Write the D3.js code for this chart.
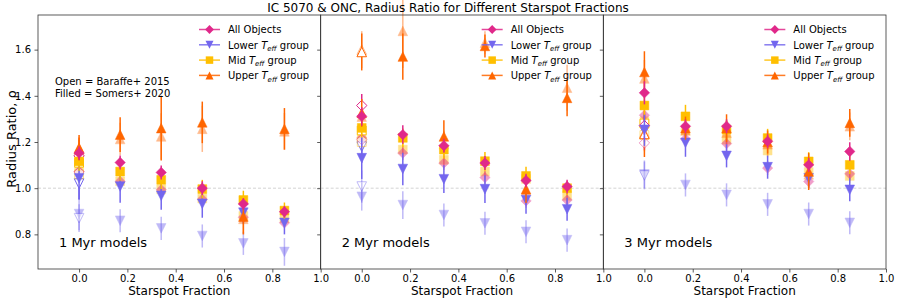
<!DOCTYPE html>
<html>
<head>
<meta charset="utf-8">
<script src="https://cdn.jsdelivr.net/npm/d3@7.9.0/dist/d3.min.js"></script>
<style>
  body { margin: 0; background: #fff; }
  svg { display: block; font-family: "DejaVu Sans", sans-serif; }
</style>
</head>
<body>
<svg id="chart" width="897" height="300"></svg>
<script>
const fractions = [0, 0.17, 0.34, 0.51, 0.68, 0.85];
const panelLabels = ['1 Myr models', '2 Myr models', '3 Myr models'];
const xTicks = [0, 0.2, 0.4, 0.6, 0.8, 1.0];
const yTicks = [0.8, 1.0, 1.2, 1.4, 1.6];

// Somers+ 2020 (filled), one row per model age. IC = solid, ONC = faded
const allIC = [
  [1.152, 1.111, 1.068, 1.0, 0.932, 0.898],
  [1.311, 1.232, 1.184, 1.109, 1.033, 1.007],
  [1.413, 1.268, 1.268, 1.203, 1.101, 1.159]
];
const allICErr = [
  [0.03, 0.03, 0.03, 0.03, 0.025, 0.025],
  [0.04, 0.04, 0.03, 0.03, 0.03, 0.03],
  [0.05, 0.03, 0.03, 0.03, 0.03, 0.04]
];
const allONC = [
  [1.072, 1.029, 0.993, 0.952, 0.874, 0.85],
  [1.217, 1.152, 1.109, 1.046, 0.945, 0.949],
  [1.316, 1.213, 1.193, 1.087, 1.029, 1.062]
];
const allONCErr = [
  [0.02, 0.02, 0.02, 0.02, 0.02, 0.02],
  [0.03, 0.03, 0.03, 0.03, 0.03, 0.03],
  [0.03, 0.03, 0.03, 0.03, 0.03, 0.03]
];

const lowerIC = [
  [1.043, 1.007, 0.967, 0.932, 0.894, 0.85],
  [1.13, 1.083, 1.039, 0.996, 0.949, 0.909],
  [1.253, 1.196, 1.14, 1.091, 1.043, 0.993]
];
const lowerICErr = [
  [0.09, 0.07, 0.06, 0.06, 0.05, 0.05],
  [0.09, 0.07, 0.06, 0.06, 0.06, 0.05],
  [0.07, 0.06, 0.05, 0.05, 0.04, 0.05]
];
const lowerONC = [
  [0.888, 0.859, 0.826, 0.793, 0.761, 0.724],
  [0.963, 0.927, 0.884, 0.848, 0.811, 0.775],
  [1.06, 1.014, 0.971, 0.93, 0.888, 0.85]
];
const lowerONCErr = [
  [0.07, 0.05, 0.05, 0.05, 0.05, 0.06],
  [0.06, 0.06, 0.05, 0.05, 0.05, 0.05],
  [0.06, 0.05, 0.05, 0.05, 0.05, 0.05]
];

const midIC = [
  [1.116, 1.072, 1.036, 0.996, 0.949, 0.903],
  [1.261, 1.218, 1.167, 1.117, 1.053, 1.0],
  [1.358, 1.311, 1.253, 1.217, 1.116, 1.101]
];
const midICErr = [
  [0.04, 0.04, 0.04, 0.04, 0.04, 0.035],
  [0.04, 0.04, 0.04, 0.04, 0.04, 0.03],
  [0.04, 0.05, 0.04, 0.04, 0.04, 0.04]
];
const midONC = [
  [1.09, 1.03, 0.995, 0.955, 0.88, 0.87],
  [1.22, 1.167, 1.123, 1.072, 1.04, 0.967],
  [1.29, 1.25, 1.21, 1.163, 1.07, 1.053]
];
const midONCErr = [
  [0.03, 0.03, 0.03, 0.03, 0.03, 0.03],
  [0.03, 0.03, 0.03, 0.03, 0.03, 0.03],
  [0.03, 0.03, 0.03, 0.03, 0.03, 0.03]
];

const upperIC = [
  [1.175, 1.232, 1.26, 1.285, 0.877, 1.257],
  [1.326, 1.57, 1.224, 1.616, 0.996, 1.391],
  [1.503, 1.26, 1.26, 1.2, 1.072, 1.283]
];
const upperICErr = [
  [0.055, 0.075, 0.14, 0.09, 0.075, 0.09],
  [0.06, 0.1, 0.07, 0.05, 0.06, 0.08],
  [0.09, 0.05, 0.06, 0.05, 0.08, 0.06]
];
const upperONC = [
  [1.16, 1.213, 1.224, 1.257, 0.867, 1.246],
  [1.31, 1.681, 1.19, 1.63, 0.99, 1.435],
  [1.475, 1.25, 1.24, 1.19, 1.06, 1.268]
];
const upperONCErr = [
  [0.05, 0.07, 0.1, 0.1, 0.07, 0.08],
  [0.05, 0.16, 0.06, 0.05, 0.05, 0.1],
  [0.08, 0.05, 0.05, 0.05, 0.06, 0.06]
];

// Baraffe+ 2015 (open), only at zero spot fraction, one value per age
const allOpenIC = [1.14, 1.358, 1.271];
const allOpenICErr = [0.03, 0.05, 0.04];
const allOpenONC = [1.07, 1.21, 1.196];
const allOpenONCErr = [0.02, 0.03, 0.03];
const lowerOpenIC = [1.02, 1.18, 1.25];
const lowerOpenICErr = [0.07, 0.07, 0.05];
const lowerOpenONC = [0.87, 1.007, 1.055];
const lowerOpenONCErr = [0.06, 0.07, 0.06];
const midOpenIC = [1.11, 1.25, 1.28];
const midOpenICErr = [0.04, 0.04, 0.04];
const midOpenONC = [1.06, 1.2, 1.23];
const midOpenONCErr = [0.03, 0.03, 0.03];
const upperOpenIC = [1.17, 1.59, 1.235];
const upperOpenICErr = [0.05, 0.08, 0.1];
const upperOpenONC = [1.16, 1.6, 1.24];
const upperOpenONCErr = [0.05, 0.08, 0.08];

const groups = [
  { name: 'Lower', color: '#7366ee', shape: 'down',
    ic: lowerIC, icErr: lowerICErr, onc: lowerONC, oncErr: lowerONCErr,
    openIC: lowerOpenIC, openICErr: lowerOpenICErr, openONC: lowerOpenONC, openONCErr: lowerOpenONCErr },
  { name: 'Mid', color: '#ffbf00', shape: 'square',
    ic: midIC, icErr: midICErr, onc: midONC, oncErr: midONCErr,
    openIC: midOpenIC, openICErr: midOpenICErr, openONC: midOpenONC, openONCErr: midOpenONCErr },
  { name: 'Upper', color: '#ff6600', shape: 'up',
    ic: upperIC, icErr: upperICErr, onc: upperONC, oncErr: upperONCErr,
    openIC: upperOpenIC, openICErr: upperOpenICErr, openONC: upperOpenONC, openONCErr: upperOpenONCErr },
  { name: 'All Objects', color: '#e0288a', shape: 'diamond',
    ic: allIC, icErr: allICErr, onc: allONC, oncErr: allONCErr,
    openIC: allOpenIC, openICErr: allOpenICErr, openONC: allOpenONC, openONCErr: allOpenONCErr }
];
const legendOrder = ['All Objects', 'Lower', 'Mid', 'Upper'];

const FADE = 0.45;
const shapes = {
  diamond: (r) => `M0,${-r}L${r},0L0,${r}L${-r},0Z`,
  square: (r) => `M${-r * 0.85},${-r * 0.85}H${r * 0.85}V${r * 0.85}H${-r * 0.85}Z`,
  up: (r) => `M0,${-r}L${r},${r}L${-r},${r}Z`,
  down: (r) => `M0,${r}L${r},${-r}L${-r},${-r}Z`
};
const markerR = { diamond: 5.2, square: 5.2, up: 4.8, down: 4.8 };

const svg = d3.select('#chart');
const plotLeft = 38, plotRight = 886, plotTop = 15, plotBottom = 269;
const panelW = (plotRight - plotLeft) / 3;

const y = d3.scaleLinear().domain([0.65, 1.75]).range([plotBottom, plotTop]);

function drawPoint(g, gx, val, err, grp, opts) {
  const r = markerR[grp.shape];
  g.append('line')
    .attr('x1', gx).attr('x2', gx)
    .attr('y1', y(val - err)).attr('y2', y(val + err))
    .attr('stroke', grp.color).attr('stroke-width', 1.5)
    .attr('opacity', opts.faded ? FADE : 1);
  g.append('path')
    .attr('d', shapes[grp.shape](r))
    .attr('transform', `translate(${gx},${y(val)})`)
    .attr('fill', opts.open ? '#fff' : grp.color)
    .attr('stroke', grp.color)
    .attr('stroke-width', opts.open ? 1 : 0.5)
    .attr('opacity', opts.faded ? FADE : 1);
}

panelLabels.forEach((label, p) => {
  const x0 = plotLeft + p * panelW;
  const x = d3.scaleLinear().domain([-0.17, 1.0]).range([x0, x0 + panelW]);
  const g = svg.append('g');

  // reference line at rho = 1
  g.append('line')
    .attr('x1', x0).attr('x2', x0 + panelW)
    .attr('y1', y(1)).attr('y2', y(1))
    .attr('stroke', '#c8c8c8').attr('stroke-width', 0.8)
    .attr('stroke-dasharray', '3,2');

  const marks = g.append('g');
  // faded (ONC) first
  groups.forEach((grp) => {
    fractions.forEach((f, i) => drawPoint(marks, x(f), grp.onc[p][i], grp.oncErr[p][i], grp, { faded: true }));
  });
  groups.forEach((grp) => {
    drawPoint(marks, x(0), grp.openONC[p], grp.openONCErr[p], grp, { faded: true, open: true });
    drawPoint(marks, x(0), grp.openIC[p], grp.openICErr[p], grp, { open: true });
  });
  groups.forEach((grp) => {
    fractions.forEach((f, i) => drawPoint(marks, x(f), grp.ic[p][i], grp.icErr[p][i], grp, {}));
  });

  // axes
  const xAxis = g.append('g')
    .attr('transform', `translate(0,${plotBottom})`)
    .call(d3.axisBottom(x).tickValues(xTicks).tickFormat(d3.format('.1f')).tickSize(3.5).tickPadding(2));
  const yAxis = g.append('g')
    .attr('transform', `translate(${x0},0)`)
    .call(d3.axisLeft(y).tickValues(yTicks).tickFormat(p === 0 ? d3.format('.1f') : () => '').tickSize(3.5).tickPadding(3.5));
  [xAxis, yAxis].forEach((a) => {
    a.select('.domain').remove();
    a.selectAll('line').attr('stroke', '#333').attr('stroke-width', 0.8);
    a.selectAll('text').attr('font-size', 10).attr('fill', '#000').attr('font-family', '"DejaVu Sans", sans-serif');
  });

  g.append('rect')
    .attr('x', x0).attr('y', plotTop)
    .attr('width', panelW).attr('height', plotBottom - plotTop)
    .attr('fill', 'none').attr('stroke', '#333').attr('stroke-width', 0.8);

  g.append('text')
    .attr('x', x0 + panelW / 2).attr('y', 295)
    .attr('text-anchor', 'middle').attr('font-size', 12)
    .text('Starspot Fraction');

  g.append('text')
    .attr('x', x0 + 21).attr('y', 246.5)
    .attr('font-size', 13)
    .text(label);

  // legend
  const leg = g.append('g');
  legendOrder.forEach((name, k) => {
    const grp = groups.find((d) => d.name === name);
    const ly = 29.5 + k * 15.3;
    leg.append('line')
      .attr('x1', x0 + 161).attr('x2', x0 + 182)
      .attr('y1', ly).attr('y2', ly)
      .attr('stroke', grp.color).attr('stroke-width', 1.5).attr('opacity', 0.85);
    leg.append('path')
      .attr('d', shapes[grp.shape](markerR[grp.shape] - 0.8))
      .attr('transform', `translate(${x0 + 171.5},${ly})`)
      .attr('fill', grp.color);
    const t = leg.append('text')
      .attr('x', x0 + 190).attr('y', ly + 3.7)
      .attr('font-size', 10);
    if (name === 'All Objects') {
      t.text(name);
    } else {
      t.append('tspan').text(name + ' ');
      t.append('tspan').attr('font-style', 'italic').text('T');
      t.append('tspan').attr('font-style', 'italic').attr('font-size', 7).attr('dy', 2.5).text('eff');
      t.append('tspan').attr('dy', -2.5).text(' group');
    }
  });
});

svg.append('text')
  .attr('x', 55).attr('y', 84.5).attr('font-size', 10)
  .text('Open = Baraffe+ 2015');
svg.append('text')
  .attr('x', 55).attr('y', 96.5).attr('font-size', 10)
  .text('Filled = Somers+ 2020');

svg.append('text')
  .attr('x', 448).attr('y', 12)
  .attr('text-anchor', 'middle').attr('font-size', 12)
  .text('IC 5070 & ONC, Radius Ratio for Different Starspot Fractions');

svg.append('text')
  .attr('transform', `translate(16,${(plotTop + plotBottom) / 2 - 3}) rotate(-90)`)
  .attr('text-anchor', 'middle').attr('font-size', 13)
  .text('Radius Ratio, ρ');
</script>
</body>
</html>
